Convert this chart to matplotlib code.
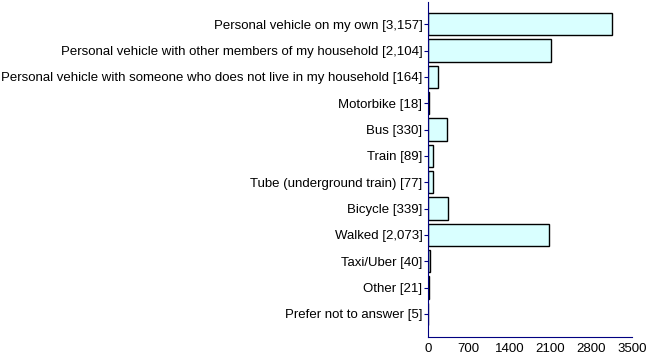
import numpy as np
import matplotlib.pyplot as plt

plt.rcParams['font.family'] = ['Liberation Sans', 'DejaVu Sans']

# categories and counts
cats = ['Personal vehicle on my own', 'Personal vehicle with other members of my household',
        'Personal vehicle with someone who does not live in my household', 'Motorbike', 'Bus',
        'Train', 'Tube (underground train)', 'Bicycle', 'Walked', 'Taxi/Uber', 'Other',
        'Prefer not to answer']
counts = [3157, 2104, 164, 18, 330, 89, 77, 339, 2073, 40, 21, 5]
xticks = [0, 700, 1400, 2100, 2800, 3500]

labels = [c + ' [' + format(n, ',') + ']' for c, n in zip(cats, counts)]

fig = plt.figure(figsize=(6.5, 3.64), dpi=100)
ax = fig.add_axes([0.6585, 0.074, 0.3138, 0.921])
y = np.arange(len(cats))
ax.barh(y, counts, height=0.84, color='#d9ffff', edgecolor='black', linewidth=1)

ax.set_xlim(0, 3500)
ax.set_ylim(len(cats) - 0.12, -0.85)
ax.set_xticks(xticks)
ax.set_yticks(y)
ax.set_yticklabels(labels)
for s in ['top', 'right']:
    ax.spines[s].set_visible(False)
for s in ['left', 'bottom']:
    ax.spines[s].set_color('#000080')
ax.tick_params(axis='y', length=3, color='#000080', labelsize=9.5, pad=1)
ax.tick_params(axis='x', length=0, labelsize=9.5, pad=4)

fig.savefig('out.png', dpi=100)
